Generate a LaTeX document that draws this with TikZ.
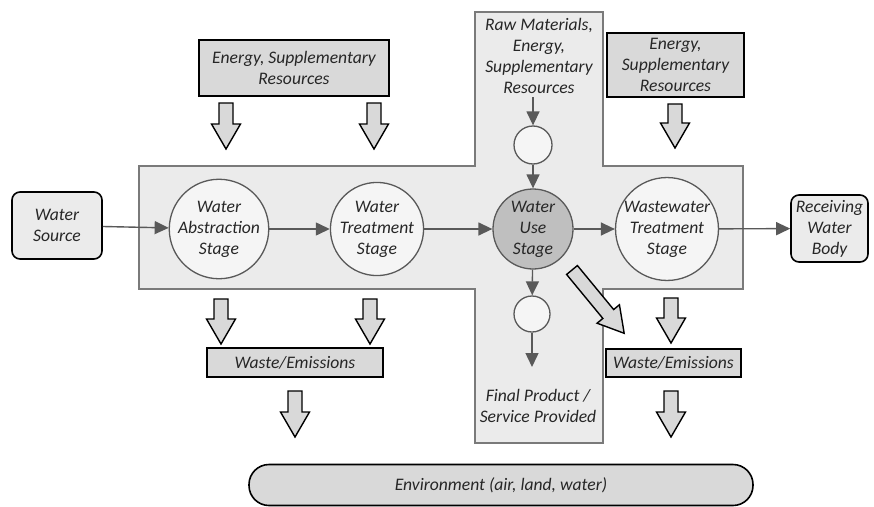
\documentclass[tikz,border=0pt]{standalone}
\usepackage{fontspec}
\setmainfont{Carlito}
\usetikzlibrary{arrows.meta,positioning,calc}

\definecolor{bandgray}{HTML}{EBEBEB}
\definecolor{edgegray}{HTML}{7A7A7A}
\definecolor{boxgray}{HTML}{D9D9D9}
\definecolor{usegray}{HTML}{BFBFBF}
\definecolor{flowgray}{HTML}{595959}

\tikzset{
  txt/.style={font=\fontsize{17.6}{21}\selectfont\itshape, align=center, text=black!85},
  resbox/.style={txt, draw=black, line width=1.6pt, fill=boxgray, inner sep=0pt},
  endbox/.style={txt, draw=black, line width=1.6pt, fill=bandgray, rounded corners=8pt,
    minimum width=90pt, minimum height=67pt, inner sep=0pt},
  stage/.style={txt, circle, draw=flowgray, line width=1.3pt, fill=white!96!black,
    minimum size=88pt, inner sep=0pt},
  dot/.style={circle, draw=flowgray, line width=1.3pt, fill=white!96!black,
    minimum size=#1, inner sep=0pt},
  flow/.style={draw=flowgray, line width=1.4pt, -{Triangle[length=14pt,width=13pt]}},
  barrow/.style={draw=black, line width=1.4pt, fill=boxgray, line join=miter},
  blockdown/.pic={\draw[barrow] (-7,0) -- (7,0) -- (7,#1-25) -- (14.5,#1-25) -- (0,#1)
    -- (-14.5,#1-25) -- (-7,#1-25) -- cycle;}
}

\begin{document}
\begin{tikzpicture}[x=1pt,y=-1pt]
  \useasboundingbox (0,0) rectangle (874,506);

  % cross shaped process area
  \draw[fill=bandgray, draw=edgegray, line width=2pt]
    (139,166) -- (475,166) -- (475,12) -- (603,12) -- (603,166) -- (743,166)
    -- (743,289) -- (603,289) -- (603,443) -- (475,443) -- (475,289) -- (139,289) -- cycle;

  % inputs
  \node[resbox, minimum width=190pt, minimum height=56pt] (energyA) at (294,68)
    {Energy, Supplementary\\Resources};
  \node[resbox, minimum width=137pt, minimum height=64pt] (energyB) at (675.5,65)
    {Energy,\\Supplementary\\Resources};
  \node[txt] (raw) at (539,56) {Raw Materials,\\Energy,\\Supplementary\\Resources};

  % stages
  \node[endbox] (source) at (57,225.5) {Water\\Source};
  \node[stage] (abstraction) at (219,229) {Water\\Abstraction\\Stage};
  \node[stage] (treatment) at (377,229) {Water\\Treatment\\Stage};
  \node[stage, fill=usegray, minimum size=80pt] (use) at (533,229) {Water\\Use\\Stage};
  \node[stage] (wastewater) at (667,229) {Wastewater\\Treatment\\Stage};
  \node[endbox, minimum width=77pt] (receiving) at (829.5,228.5) {Receiving\\Water\\Body};
  \node[dot=38pt] (inlet) at (533,145) {};
  \node[dot=36pt] (outlet) at (532,314) {};
  \coordinate (product) at (532,367);
  \node[txt] (final) at (538,406) {Final Product /\\Service Provided};

  % outputs
  \node[resbox, minimum width=176pt, minimum height=29pt] (wasteA) at (295,362.5) {Waste/Emissions};
  \node[resbox, minimum width=135pt, minimum height=28pt] (wasteB) at (673.5,363) {Waste/Emissions};
  \node[txt, draw=black, line width=1.6pt, fill=boxgray, rounded corners=20pt,
    minimum width=504pt, minimum height=41pt] (env) at (501,485) {Environment (air, land, water)};

  % water flow
  \draw[flow] (source) -- (abstraction);
  \draw[flow] (abstraction) -- (treatment);
  \draw[flow] (treatment) -- (use);
  \draw[flow] (use) -- (wastewater);
  \draw[flow] (wastewater) -- (receiving);
  \draw[flow] (inlet |- 0,97) -- (inlet);
  \draw[flow] (inlet) -- (use);
  \draw[flow] (use) -- (outlet);
  \draw[flow] (outlet) -- (product);

  % block arrows
  \pic at (226,103) {blockdown=46};
  \pic at (374,103) {blockdown=46};
  \pic at (675,104) {blockdown=44};
  \pic at (221,299) {blockdown=45};
  \pic at (370,299) {blockdown=45};
  \pic at (671,298) {blockdown=45};
  \pic at (295,391) {blockdown=46};
  \pic at (671,391) {blockdown=46};
  \pic[rotate=39.5] at (572,270) {blockdown=82};
\end{tikzpicture}
\end{document}
